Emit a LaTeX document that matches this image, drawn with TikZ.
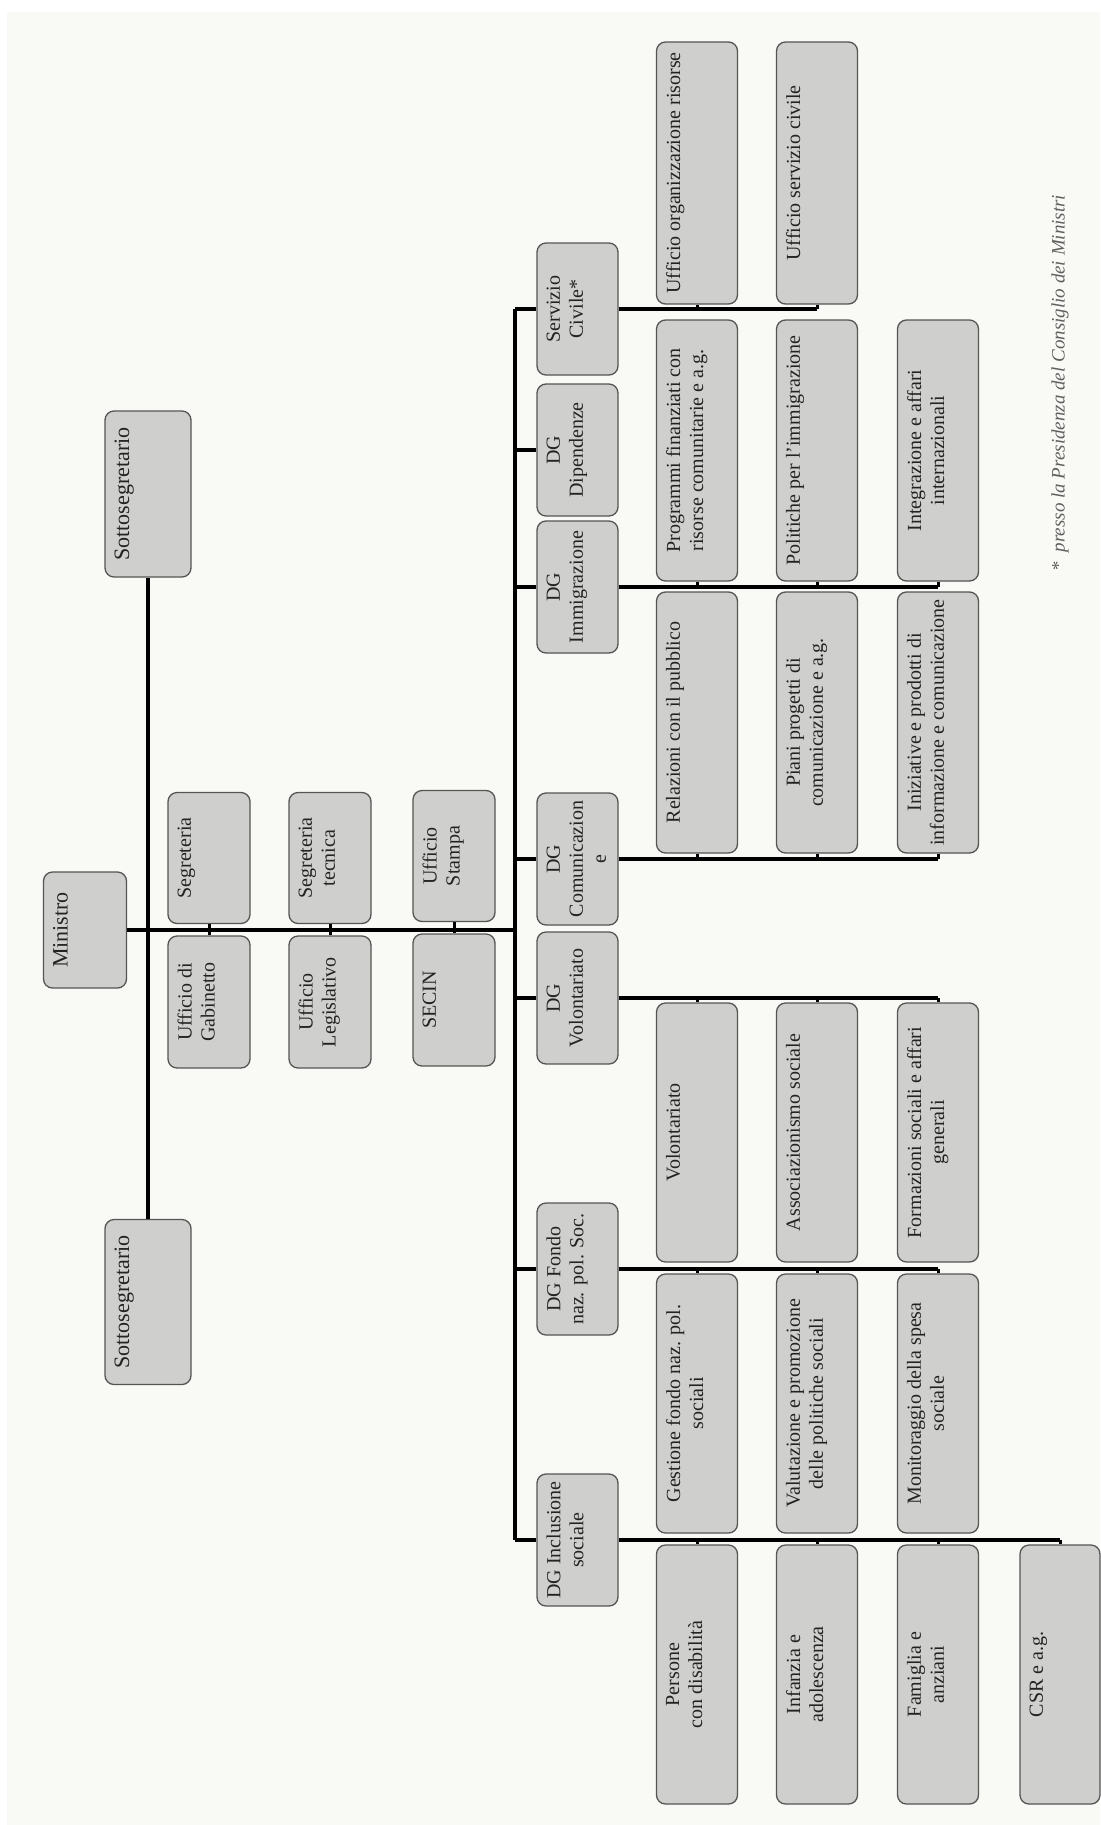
\documentclass[tikz,border=0pt]{standalone}
\usepackage{fontspec}
\setmainfont{Liberation Serif}
\definecolor{bg}{RGB}{249,250,245}
\definecolor{boxfill}{RGB}{207,207,205}
\definecolor{boxline}{RGB}{85,85,85}
\definecolor{txt}{RGB}{35,35,35}
\definecolor{foot}{RGB}{95,95,95}
\tikzset{
  orgb/.style={draw=boxline, fill=boxfill, rounded corners=9pt, line width=1.3pt, inner sep=0pt, rotate=90},
  lbl/.style={rotate=90, anchor=north, align=center, inner sep=0pt, text=txt, font=\fontsize{20}{23}\selectfont},
  conn/.style={line width=3.5pt, draw=black},
  stub/.style={line width=3pt, draw=black},
}
% name, cx, cy, width (image), height (image), text
\newcommand{\orgbox}[6]{%
  \node[orgb, minimum width=#5pt, minimum height=#4pt] (#1) at (#2,#3) {};
  \node[lbl] (#1-t) at ([xshift=10pt]#1.north) {#6};
}
\begin{document}
\begin{tikzpicture}[x=1pt,y=-1pt]
\fill[white] (0,0) rectangle (1100,1825);
\fill[bg] (7,12) rectangle (1100,1825);
\useasboundingbox (0,0) rectangle (1100,1825);

% top level
\orgbox{sotA}{148}{494}{86}{166}{\fontsize{22}{25}\selectfont Sottosegretario}
\orgbox{sotB}{148}{1302}{86}{165}{\fontsize{22}{25}\selectfont Sottosegretario}
\orgbox{mini}{85}{930}{83}{116}{\fontsize{22}{25}\selectfont Ministro}

% staff
\orgbox{segr}{209}{858}{82}{131}{Segreteria}
\orgbox{gab}{209}{1002}{82}{132}{Ufficio di\\Gabinetto}
\orgbox{segt}{330}{858}{82}{131}{Segreteria\\tecnica}
\orgbox{leg}{330}{1002}{82}{132}{Ufficio\\Legislativo}
\orgbox{stam}{454}{856}{82}{131}{Ufficio\\Stampa}
\orgbox{secin}{454}{1000}{82}{132}{SECIN}

% DG column
\orgbox{serv}{577.5}{309}{81}{132}{Servizio\\Civile*}
\orgbox{dip}{577.5}{450}{81}{132}{DG\\Dipendenze}
\orgbox{imm}{577.5}{587}{81}{132}{DG\\Immigrazione}
\orgbox{com}{577.5}{859}{81}{132}{DG\\Comunicazion\\e}
\orgbox{vol}{577.5}{998}{81}{132}{DG\\Volontariato}
\orgbox{fondo}{577.5}{1269}{81}{132}{DG Fondo\\naz. pol. Soc.}
\orgbox{incl}{577.5}{1540}{81}{132}{DG Inclusione\\sociale}

% Servizio civile children
\orgbox{uorg}{697}{173}{81}{262}{Ufficio organizzazione risorse}
\orgbox{userv}{817}{173}{81}{262}{Ufficio servizio civile}

% Immigrazione children
\orgbox{prog}{697}{450.5}{81}{261}{Programmi finanziati con\\risorse comunitarie e a.g.}
\orgbox{polit}{817}{450.5}{81}{261}{Politiche per l'immigrazione}
\orgbox{integ}{938}{450.5}{81}{261}{Integrazione e affari\\internazionali}

% Comunicazione children
\orgbox{rel}{697}{722.5}{81}{261}{Relazioni con il pubblico}
\orgbox{piani}{817}{722.5}{81}{261}{Piani progetti di\\comunicazione e a.g.}
\orgbox{iniz}{938}{722.5}{81}{261}{Iniziative e prodotti di\\informazione e comunicazione}

% Volontariato children
\orgbox{volo}{697}{1132.5}{81}{259}{Volontariato}
\orgbox{assoc}{817}{1132.5}{81}{259}{Associazionismo sociale}
\orgbox{form}{938}{1132.5}{81}{259}{Formazioni sociali e affari\\generali}

% Fondo children
\orgbox{gest}{697}{1403.5}{81}{259}{Gestione fondo naz. pol.\\sociali}
\orgbox{valu}{817}{1403.5}{81}{259}{Valutazione e promozione\\delle politiche sociali}
\orgbox{moni}{938}{1403.5}{81}{259}{Monitoraggio della spesa\\sociale}

% Inclusione children
\orgbox{pers}{697}{1674.5}{81}{259}{Persone\\con disabilità}
\orgbox{infa}{817}{1674.5}{81}{259}{Infanzia e\\adolescenza}
\orgbox{fami}{938}{1674.5}{81}{259}{Famiglia e\\anziani}
\orgbox{csr}{1060}{1674.5}{80}{259}{CSR e a.g.}

% footnote
\node[rotate=90, inner sep=0pt, text=foot, font=\itshape\fontsize{19}{22}\selectfont] (note) at (1060,383) {*\ \ presso la Presidenza del Consiglio dei Ministri};

% main connectors
\coordinate (hub) at (515,930);
\coordinate (vtop) at (515,309);
\coordinate (vbot) at (515,1540);
\draw[conn] (mini.south) -- (hub);
\draw[conn] (vtop) -- (vbot);
\draw[conn] (sotA.west) -- (sotB.east);

% staff stubs
\draw[stub] (segr.west) -- (gab.east);
\draw[stub] (segt.west) -- (leg.east);
\draw[stub] (stam.west) -- (secin.east);

% DG stubs from main vertical
\foreach \d in {serv,dip,imm,com,vol,fondo,incl}
  \draw[conn] (\d.north -| vtop) -- (\d.north);

% branches to children above
\draw[conn] (serv.south) -- (userv.west |- serv.south);
\foreach \c in {uorg,userv} \draw[stub] (\c.west) -- (\c.west |- serv.south);
\draw[conn] (imm.south) -- (integ.west |- imm.south);
\foreach \c in {prog,polit,integ} \draw[stub] (\c.west) -- (\c.west |- imm.south);
\draw[conn] (com.south) -- (iniz.west |- com.south);
\foreach \c in {rel,piani,iniz} \draw[stub] (\c.west) -- (\c.west |- com.south);

% branches to children below
\draw[conn] (vol.south) -- (form.east |- vol.south);
\foreach \c in {volo,assoc,form} \draw[stub] (\c.east) -- (\c.east |- vol.south);
\draw[conn] (fondo.south) -- (moni.east |- fondo.south);
\foreach \c in {gest,valu,moni} \draw[stub] (\c.east) -- (\c.east |- fondo.south);
\draw[conn] (incl.south) -- (csr.east |- incl.south);
\foreach \c in {pers,infa,fami,csr} \draw[stub] (\c.east) -- (\c.east |- incl.south);
\end{tikzpicture}
\end{document}
